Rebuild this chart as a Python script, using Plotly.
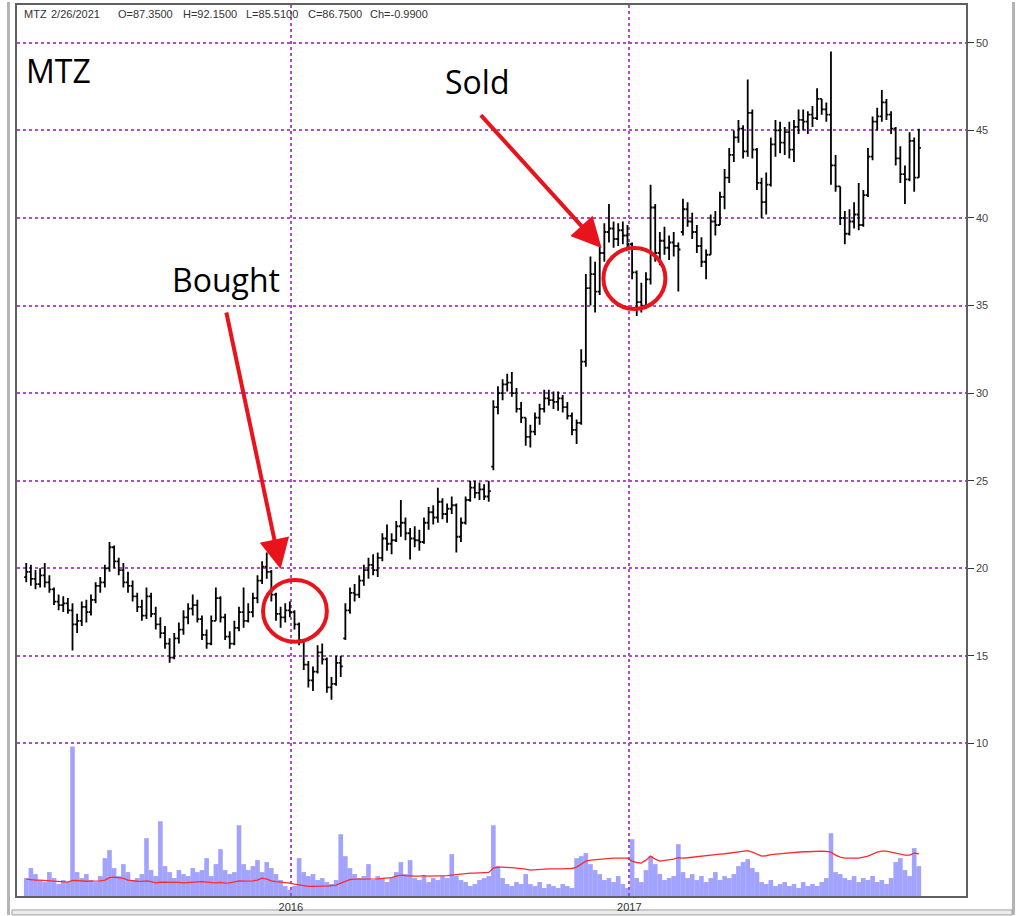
import pandas as pd
import plotly.graph_objects as go

# --- MTZ daily-ish bars (one bar every 5 calendar days) ---
bar_start = "2015-03-21"

opens = [
    19.5, 19.8, 19.4, 19.1, 19.6, 19.2, 18.8, 18.1, 17.9, 18.0,
    17.6, 16.8, 17.0, 17.8, 17.5, 18.2, 19.0, 19.2, 20.0, 21.2,
    20.4, 19.9, 19.2, 19.0, 18.4, 17.8, 17.3, 18.4, 17.4, 16.8,
    16.3, 15.7, 14.9, 16.0, 16.5, 17.2, 17.7, 17.9, 17.1, 16.2,
    15.7, 17.0, 18.3, 17.2, 16.1, 15.7, 16.6, 17.5, 17.0, 17.5,
    18.3, 19.3, 20.1, 19.8, 18.5, 17.4, 17.2, 17.6, 17.5, 16.8,
    15.9, 14.5, 13.6, 14.1, 15.2, 14.8, 13.2, 13.4, 14.6, 16.0,
    17.6, 18.6, 18.5, 19.3, 19.9, 20.2, 19.9, 20.6, 21.7, 21.4,
    21.6, 22.4, 22.6, 22.0, 21.7, 21.6, 21.5, 22.6, 23.2, 22.9,
    23.8, 23.1, 23.4, 23.6, 21.8, 22.6, 23.9, 24.6, 24.3, 24.5,
    24.1, 25.8, 29.2, 30.0, 30.5, 30.6, 30.0, 29.1, 28.6, 27.5,
    27.8, 28.6, 29.1, 29.7, 29.6, 29.5, 29.7, 29.2, 28.7, 27.9,
    28.3, 31.8, 36.0, 36.8, 35.8, 38.0, 39.2, 39.4, 38.8, 39.3,
    39.0, 38.5, 36.9, 35.2, 35.0, 36.5, 40.6, 38.0, 38.7, 38.3,
    38.6, 38.4, 39.2, 40.5, 39.8, 39.2, 38.4, 37.5, 37.9, 39.8,
    39.6, 41.2, 42.3, 43.6, 44.6, 45.1, 43.8, 46.0, 43.9, 42.0,
    40.9, 41.9, 44.2, 45.0, 44.3, 44.9, 43.9, 45.2, 45.6, 45.5,
    45.9, 45.7, 46.8, 46.2, 45.9, 43.0, 41.8, 40.0, 39.1, 39.8,
    40.2, 39.6, 41.3, 43.5, 45.5, 45.8, 46.6, 45.9, 45.1, 43.4,
    42.5, 42.2, 44.4, 42.3,
]
highs = [
    20.3, 20.2, 19.9, 20.0, 20.3, 19.6, 18.9, 18.5, 18.4, 18.3,
    18.0, 17.4, 18.1, 18.2, 18.5, 19.2, 19.5, 20.2, 21.5, 21.3,
    20.6, 20.3, 19.8, 19.3, 18.6, 18.2, 18.9, 18.6, 17.8, 17.2,
    16.7, 16.0, 16.3, 16.9, 17.6, 18.0, 18.5, 18.2, 17.3, 16.5,
    17.3, 18.9, 18.4, 17.4, 16.4, 17.0, 17.8, 18.9, 18.0, 18.6,
    19.6, 20.4, 20.9, 19.9, 18.6, 17.8, 18.0, 18.1, 17.6, 16.9,
    15.9, 14.7, 14.4, 15.6, 15.7, 14.9, 13.8, 15.0, 15.0, 18.0,
    18.9, 19.1, 19.6, 20.2, 20.6, 20.8, 20.9, 22.0, 22.5, 22.0,
    22.7, 23.9, 22.9, 22.3, 22.4, 22.2, 22.9, 23.5, 23.6, 24.6,
    24.0, 23.7, 24.1, 23.7, 22.9, 24.1, 25.0, 25.0, 24.9, 24.8,
    25.0, 29.6, 30.4, 30.8, 31.1, 31.2, 30.3, 29.5, 28.6, 28.2,
    28.9, 29.4, 30.2, 30.2, 30.1, 30.1, 29.9, 29.5, 28.9, 28.5,
    32.5, 36.8, 37.8, 37.5, 38.4, 39.7, 40.8, 39.8, 39.7, 39.8,
    39.6, 38.6, 37.0, 36.3, 36.9, 41.9, 40.8, 39.2, 39.5, 39.0,
    39.2, 38.6, 41.1, 40.9, 40.3, 39.6, 38.9, 38.2, 40.2, 40.4,
    41.5, 42.8, 44.0, 45.0, 45.6, 45.3, 47.9, 46.2, 44.0, 42.3,
    42.6, 44.6, 45.6, 45.5, 45.2, 45.5, 45.6, 46.2, 46.2, 46.1,
    46.4, 47.4, 46.8, 46.6, 49.5, 43.6, 41.8, 40.4, 40.5, 40.9,
    42.0, 41.6, 44.0, 45.8, 46.3, 47.3, 46.8, 46.1, 45.2, 44.1,
    43.0, 44.9, 44.6, 45.1,
]
lows = [
    19.2, 19.0, 18.8, 18.9, 18.9, 18.6, 17.9, 17.6, 17.5, 17.4,
    15.3, 16.3, 16.7, 16.9, 17.3, 18.0, 18.6, 18.9, 19.8, 20.0,
    19.6, 18.9, 18.6, 18.1, 17.5, 17.0, 17.1, 17.2, 16.5, 16.0,
    15.4, 14.6, 14.8, 15.7, 16.2, 16.8, 17.3, 16.9, 15.9, 15.4,
    15.6, 17.0, 16.9, 15.9, 15.4, 15.6, 16.4, 16.6, 16.9, 17.2,
    18.0, 19.1, 19.4, 18.1, 17.0, 16.6, 16.9, 17.2, 16.5, 15.6,
    14.2, 13.2, 13.0, 14.0, 14.5, 12.9, 12.5, 13.3, 13.8, 15.9,
    17.4, 18.1, 18.3, 19.0, 19.4, 19.6, 19.5, 20.4, 21.0, 20.8,
    21.5, 21.8, 21.6, 20.5, 21.2, 21.0, 21.4, 22.2, 22.5, 22.6,
    22.8, 22.6, 23.1, 20.9, 21.5, 22.5, 23.8, 24.0, 23.9, 23.9,
    23.8, 25.6, 28.8, 29.6, 30.1, 29.8, 28.9, 28.3, 27.0, 26.9,
    27.6, 28.2, 28.9, 29.3, 29.1, 29.0, 28.9, 28.5, 27.6, 27.1,
    28.2, 31.5, 35.0, 34.6, 35.6, 37.5, 38.6, 38.3, 38.4, 38.5,
    38.2, 36.5, 34.4, 34.6, 34.8, 36.2, 37.5, 37.3, 37.9, 37.6,
    37.8, 35.8, 39.0, 39.5, 38.8, 38.0, 37.2, 36.5, 37.9, 39.0,
    39.6, 40.5, 42.0, 43.2, 44.3, 43.4, 43.5, 43.4, 41.6, 40.0,
    40.2, 41.8, 43.5, 43.7, 43.6, 43.4, 43.2, 44.8, 45.0, 44.8,
    45.2, 45.6, 45.9, 45.5, 41.9, 41.5, 39.6, 38.5, 39.0, 39.4,
    39.3, 39.5, 41.2, 43.3, 45.0, 45.5, 45.6, 44.8, 43.0, 42.0,
    40.8, 42.1, 41.5, 42.3,
]
closes = [
    19.8, 19.4, 19.1, 19.6, 19.2, 18.8, 18.1, 17.9, 18.0, 17.6,
    16.8, 17.0, 17.8, 17.5, 18.2, 19.0, 19.2, 20.0, 21.2, 20.4,
    19.9, 19.2, 19.0, 18.4, 17.8, 17.3, 18.4, 17.4, 16.8, 16.3,
    15.7, 14.9, 16.0, 16.5, 17.2, 17.7, 17.9, 17.1, 16.2, 15.7,
    17.0, 18.3, 17.2, 16.1, 15.7, 16.6, 17.5, 17.0, 17.5, 18.3,
    19.3, 20.1, 19.8, 18.5, 17.4, 17.2, 17.6, 17.5, 16.8, 15.9,
    14.5, 13.6, 14.1, 15.2, 14.8, 13.2, 13.4, 14.6, 14.4, 17.6,
    18.6, 18.5, 19.3, 19.9, 20.2, 19.9, 20.6, 21.7, 21.4, 21.6,
    22.4, 22.6, 22.0, 21.7, 21.6, 21.5, 22.6, 23.2, 22.9, 23.8,
    23.1, 23.4, 23.6, 21.8, 22.6, 23.9, 24.6, 24.3, 24.5, 24.1,
    24.4, 29.2, 30.0, 30.5, 30.6, 30.0, 29.1, 28.6, 27.5, 27.8,
    28.6, 29.1, 29.7, 29.6, 29.5, 29.7, 29.2, 28.7, 27.9, 28.3,
    31.8, 36.0, 36.8, 35.8, 38.0, 39.2, 39.4, 38.8, 39.3, 39.0,
    38.5, 36.9, 35.2, 35.0, 36.5, 40.6, 38.0, 38.7, 38.3, 38.6,
    38.4, 38.2, 40.5, 39.8, 39.2, 38.4, 37.5, 37.9, 39.8, 39.6,
    41.2, 42.3, 43.6, 44.6, 45.1, 43.8, 46.0, 43.9, 42.0, 40.9,
    41.9, 44.2, 45.0, 44.3, 44.9, 43.9, 45.2, 45.6, 45.5, 45.9,
    45.7, 46.8, 46.2, 45.9, 43.0, 41.8, 40.0, 39.1, 39.8, 40.2,
    39.6, 41.3, 43.5, 45.5, 45.8, 46.6, 45.9, 45.1, 43.4, 42.5,
    42.2, 44.4, 42.3, 44.0,
]

# volume (millions of shares) and its moving average (red line)
volume = [
    0.9, 1.4, 1.1, 0.8, 0.7, 1.2, 0.9, 0.6, 0.8, 0.7,
    7.5, 1.2, 0.9, 1.1, 0.8, 0.7, 1.0, 1.9, 2.3, 1.4,
    1.0, 1.6, 1.2, 0.8, 0.9, 1.1, 2.9, 1.3, 1.0, 3.75,
    1.5, 1.2, 0.9, 1.3, 1.1, 1.0, 1.4, 1.2, 1.3, 1.9,
    1.0, 1.6, 2.35, 1.3, 1.1, 1.2, 3.55, 1.6, 1.3, 1.5,
    1.8, 1.2, 1.7, 1.4, 1.1, 0.8, 0.5, 0.3, 0.5, 1.9,
    1.2, 1.0, 1.1, 0.8, 0.9, 0.7, 0.6, 0.8, 3.1, 2.0,
    1.4, 1.1, 0.9, 1.0, 1.6, 0.8, 1.0, 0.9, 0.7, 0.9,
    1.2, 1.7, 1.1, 1.8, 0.9, 0.8, 1.0, 0.7, 0.9, 0.8,
    1.0, 0.9, 2.1, 1.0, 0.8, 0.7, 0.5, 0.6, 0.8, 0.9,
    1.0, 3.55, 1.5, 0.9, 0.6, 0.5, 0.7, 0.6, 1.1, 0.6,
    0.5, 0.7, 0.4, 0.6, 0.5, 0.4, 0.6, 0.5, 0.4, 1.9,
    2.0, 2.15, 1.6, 1.3, 1.1, 0.8, 0.9, 0.7, 1.0, 0.6,
    0.4, 2.85, 0.9, 0.7, 1.3, 2.0, 1.6, 1.1, 0.8, 0.9,
    1.0, 2.6, 1.2, 0.9, 1.1, 0.8, 1.0, 0.7, 0.9, 1.2,
    0.8, 1.0, 0.9, 1.1, 1.5, 1.7, 1.85, 1.4, 1.2, 0.7,
    0.6, 0.8, 0.5, 0.6, 0.7, 0.5, 0.6, 0.4, 0.7, 0.5,
    0.6, 0.5, 0.7, 0.9, 3.15, 1.2, 1.1, 0.9, 0.8, 1.0,
    0.7, 0.9, 0.8, 1.0, 0.7, 0.8, 0.6, 0.9, 1.7, 1.9,
    1.3, 1.0, 2.4, 1.5,
]
volume_avg = [
    0.85, 0.82, 0.80, 0.80, 0.78, 0.76, 0.75, 0.74, 0.72, 0.70,
    0.78, 0.76, 0.75, 0.74, 0.75, 0.75, 0.76, 0.80, 0.92, 0.95,
    0.93, 0.88, 0.80, 0.76, 0.74, 0.73, 0.76, 0.72, 0.66, 0.70,
    0.70, 0.69, 0.70, 0.68, 0.66, 0.68, 0.70, 0.70, 0.72, 0.70,
    0.68, 0.66, 0.68, 0.65, 0.66, 0.70, 0.76, 0.75, 0.74, 0.76,
    0.80, 0.90, 0.85, 0.76, 0.72, 0.70, 0.68, 0.65, 0.60, 0.55,
    0.50, 0.48, 0.48, 0.50, 0.50, 0.50, 0.52, 0.55, 0.65, 0.75,
    0.82, 0.85, 0.85, 0.84, 0.85, 0.86, 0.86, 0.88, 0.90, 0.92,
    1.00, 1.05, 1.02, 1.00, 1.00, 1.00, 1.02, 1.00, 1.00, 1.00,
    1.00, 1.02, 1.05, 1.08, 1.10, 1.12, 1.15, 1.15, 1.16, 1.15,
    1.18, 1.40, 1.45, 1.45, 1.42, 1.42, 1.40, 1.38, 1.35, 1.30,
    1.32, 1.35, 1.35, 1.36, 1.36, 1.35, 1.36, 1.37, 1.38, 1.45,
    1.60, 1.75, 1.80, 1.82, 1.85, 1.88, 1.88, 1.90, 1.90, 1.90,
    1.90, 1.75, 1.68, 1.65, 1.80, 2.00, 1.85, 1.75, 1.78, 1.80,
    1.85, 1.92, 1.90, 1.92, 1.95, 1.98, 2.00, 2.02, 2.05, 2.08,
    2.10, 2.12, 2.15, 2.20, 2.22, 2.25, 2.28, 2.20, 2.10, 2.00,
    2.02, 2.08, 2.10, 2.12, 2.15, 2.18, 2.20, 2.20, 2.22, 2.22,
    2.24, 2.24, 2.25, 2.24, 2.20, 2.05, 1.95, 1.90, 1.90, 1.88,
    1.90, 1.95, 2.00, 2.10, 2.20, 2.25, 2.25, 2.20, 2.15, 2.10,
    2.05, 2.05, 2.15, 2.12,
]

price_ticks = [10, 15, 20, 25, 30, 35, 40, 45, 50]
year_ticks = ["2016-01-01", "2017-01-01"]
year_labels = ["2016", "2017"]

# quote line shown at the top of the chart window
header_fields = ["MTZ", "2/26/2021", "O=87.3500", "H=92.1500",
                 "L=85.5100", "C=86.7500", "Ch=-0.9900"]
header_x = [22, 49, 116, 181, 244, 306, 368]

dates = pd.date_range(bar_start, periods=len(closes), freq="5D")

W, H = 1023, 916
L, R, T, B = 17, 57, 3, 19
RED = "#e8141c"
GRID = "#b04cc4"


def px(x, y):
    # pixel position -> paper coordinates
    return (x - L) / (W - L - R), (H - B - y) / (H - T - B)


fig = go.Figure()

# volume bars + average (bottom of the panel)
fig.add_trace(go.Bar(
    x=dates, y=volume, yaxis="y2",
    marker=dict(color="rgba(100,100,255,0.6)", line=dict(width=0)),
    width=5 * 86400000, showlegend=False,
))
fig.add_trace(go.Scatter(
    x=dates, y=volume_avg, yaxis="y2", mode="lines",
    line=dict(color="#ff2a2a", width=1.3), showlegend=False,
))

# price bars
fig.add_trace(go.Ohlc(
    x=dates, open=opens, high=highs, low=lows, close=closes,
    increasing_line_color="black", decreasing_line_color="black",
    line=dict(width=1.8), tickwidth=0.45, showlegend=False,
))

# circles around the trades
fig.add_shape(type="circle", xref="x", yref="y",
              x0="2015-12-02", x1="2016-02-09", y0=15.8, y1=19.33,
              line=dict(color=RED, width=4))
fig.add_shape(type="circle", xref="x", yref="y",
              x0="2016-12-04", x1="2017-02-09", y0=34.81, y1=38.28,
              line=dict(color=RED, width=4))

# arrows
for head_x, head_y, tail_x, tail_y in [
    ("2015-12-21", 19.96, "2015-10-23", 34.69),
    ("2016-12-02", 38.28, "2016-07-23", 45.96),
]:
    fig.add_annotation(
        x=head_x, y=head_y, ax=tail_x, ay=tail_y,
        xref="x", yref="y", axref="x", ayref="y",
        text="", showarrow=True, arrowhead=2, arrowsize=1.5,
        arrowwidth=4, arrowcolor=RED, standoff=0,
    )

# text labels
for label, (x, y), size, anchor in [
    ("MTZ", (24, 69), 32, "left"),
    ("Bought", (226, 278), 32, "center"),
    ("Sold", (477, 80), 32, "center"),
]:
    xp, yp = px(x, y)
    fig.add_annotation(
        x=xp, y=yp, xref="paper", yref="paper", text=label, showarrow=False,
        xanchor=anchor, yanchor="middle",
        font=dict(family="Open Sans", size=size, color="black"),
    )

for field, hx in zip(header_fields, header_x):
    xp, yp = px(hx, 12)
    fig.add_annotation(
        x=xp, y=yp, xref="paper", yref="paper", text=field,
        showarrow=False, xanchor="left", yanchor="middle",
        font=dict(family="Liberation Sans", size=11, color="#333333"),
    )

# window chrome around the chart
for x0, y0, x1, y1 in [(7, 0, 10, H), (1012, 0, 1015, H)]:
    a0, b0 = px(x0, y1)
    a1, b1 = px(x1, y0)
    fig.add_shape(type="rect", xref="paper", yref="paper",
                  x0=a0, x1=a1, y0=b0, y1=b1, layer="below",
                  line=dict(width=0), fillcolor="#b4b4b4")
a0, b0 = px(12, H)
a1, b1 = px(1012, 911)
fig.add_shape(type="rect", xref="paper", yref="paper",
              x0=a0, x1=a1, y0=b0, y1=b1, layer="below",
              line=dict(color="#a0a0a0", width=1), fillcolor="#ececec")

fig.update_layout(
    width=W, height=H,
    margin=dict(l=L, r=R, t=T, b=B),
    paper_bgcolor="white", plot_bgcolor="white",
    showlegend=False,
    xaxis=dict(
        type="date",
        range=["2015-03-11", "2017-12-31"],
        rangeslider=dict(visible=False),
        tickvals=year_ticks, ticktext=year_labels,
        ticks="", ticklabelstandoff=0,
        tickfont=dict(family="Liberation Sans", size=11, color="#333333"),
        showgrid=True, gridcolor=GRID, griddash="dot", gridwidth=1.5,
        showline=True, mirror=True, linecolor="#606060", linewidth=1.5,
        zeroline=False,
    ),
    yaxis=dict(
        side="right",
        range=[1.29, 52.16],
        tickvals=price_ticks,
        ticks="outside", ticklen=6, tickcolor="#333333",
        tickfont=dict(family="Liberation Sans", size=11, color="#444444"),
        showgrid=True, gridcolor=GRID, griddash="dot", gridwidth=1.5,
        showline=True, mirror=True, linecolor="#606060", linewidth=1.5,
        zeroline=False,
    ),
    yaxis2=dict(
        overlaying="y", range=[0, 44.7], visible=False, showgrid=False,
    ),
)

# the page itself should not add a border round the figure
fig.write_html(
    "out.html",
    config={"displayModeBar": False},
    post_script="document.body.style.margin = '0';",
)
